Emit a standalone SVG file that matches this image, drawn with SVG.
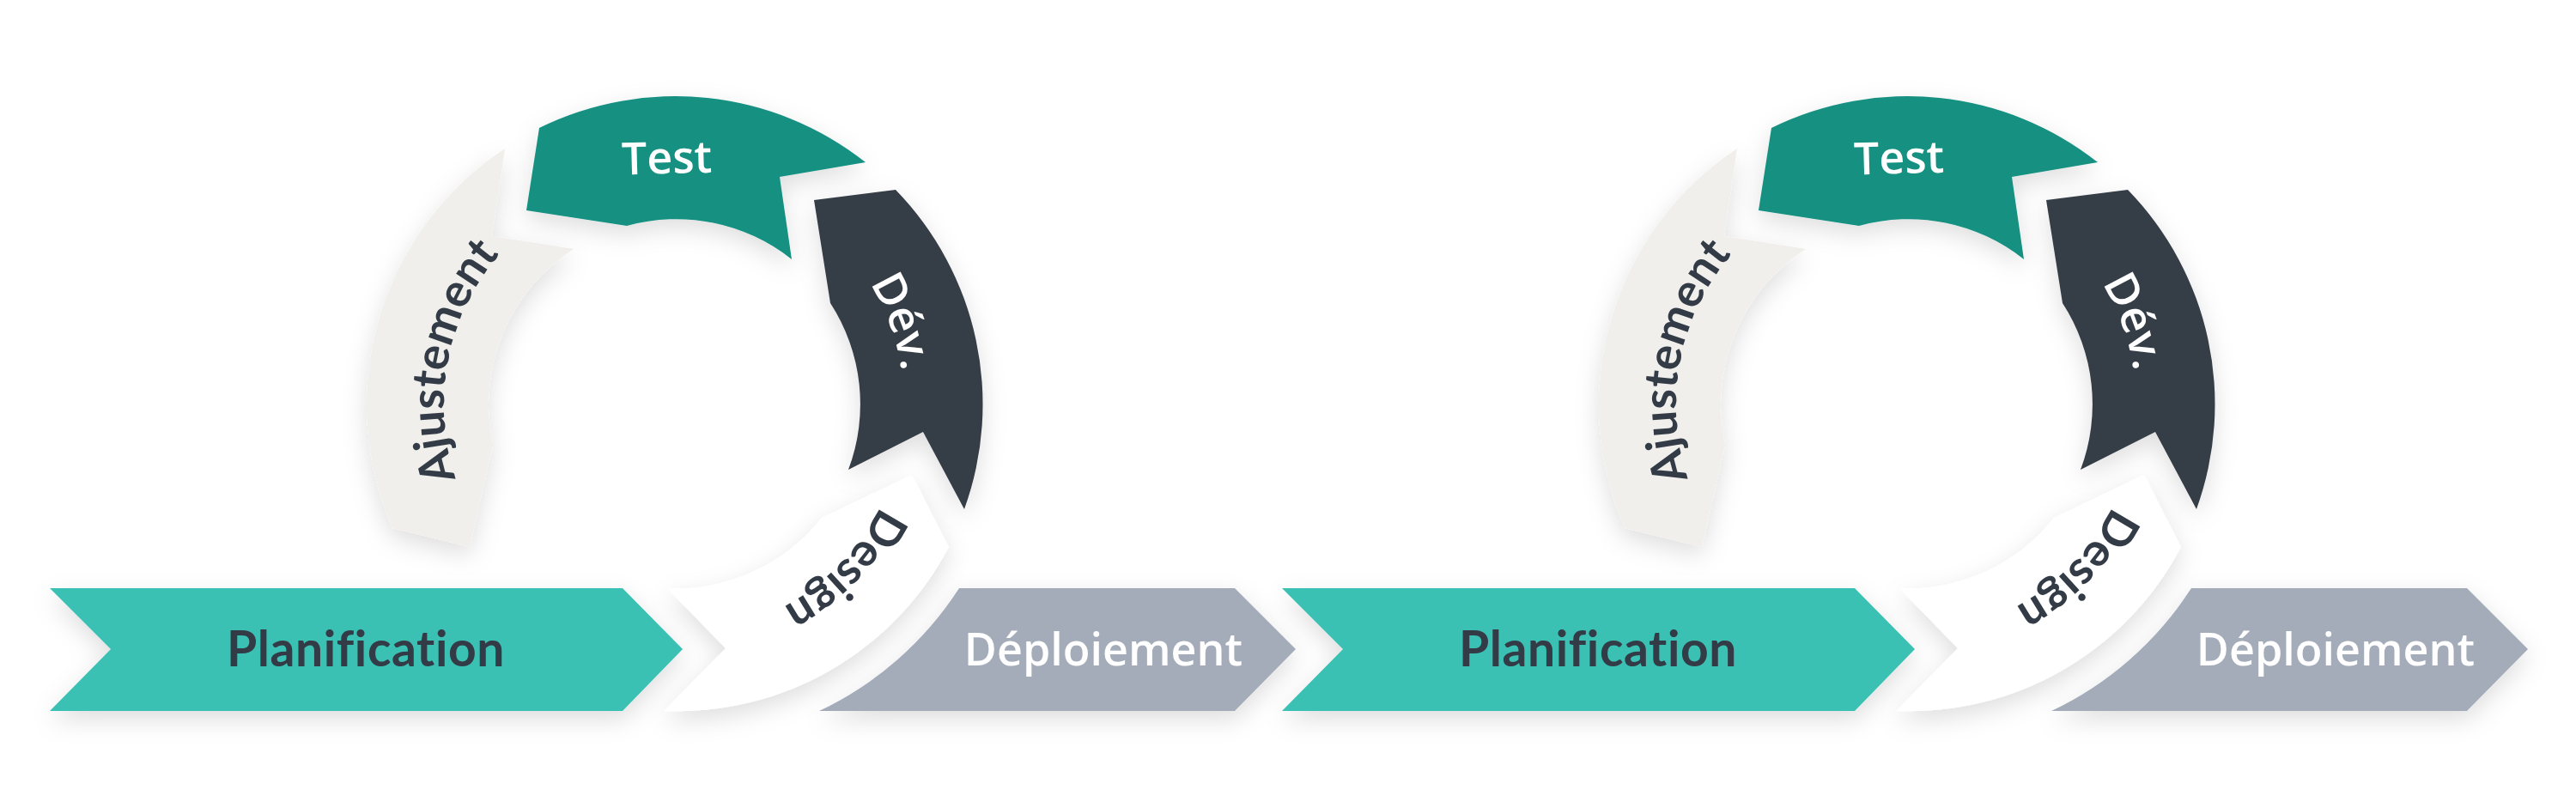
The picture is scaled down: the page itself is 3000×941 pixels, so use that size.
<svg xmlns="http://www.w3.org/2000/svg" xmlns:xlink="http://www.w3.org/1999/xlink" width="3000" height="941" viewBox="0 0 3000 941">
<style>
.sh{filter:url(#shadow)}
.t-adj{fill:#f1efec}
.t-test{fill:#169081}
.t-dev{fill:#363d46}
.t-des{fill:#ffffff}
.t-plan{fill:#3bc1b4}
.t-dep{fill:#a4acba}
.lbl-dark{font-family:"Lato","Liberation Sans",sans-serif;font-weight:700;font-size:54px;fill:#333c46}
.lbl-plan{font-size:57px;letter-spacing:0.6px}
.lbl-light{font-family:"Open Sans","Liberation Sans",sans-serif;font-weight:600;font-size:52px;fill:#ffffff}
</style>
<defs>
<filter id="shadow" x="-30%" y="-30%" width="160%" height="170%">
<feDropShadow dx="0" dy="10" stdDeviation="14" flood-color="#000000" flood-opacity="0.13"/>
</filter>
<path id="arcDev" d="M831.5,207.1 A268,268 0 0 1 990.3,643.3"/>
<path id="arcDes" d="M1042.6,397.1 A268,268 0 0 1 720.2,731"/>
<path id="arcAdj" d="M609.2,673.3 A268,268 0 0 1 697.7,217.6"/>
</defs>
<rect width="3000" height="941" fill="#ffffff"/>

<g id="cycle1">
<g id="ajustement1">
<path class="sh t-adj" d="M588,173 L573,275 L668,290 A216,216 0 0 0 574,518 L547,637 L457,615 A358,358 0 0 1 588,173 Z"/>
<text class="lbl-dark"><textPath xlink:href="#arcAdj" href="#arcAdj" startOffset="50%" text-anchor="middle">Ajustement</textPath></text>
</g>
<g id="test1">
<path class="sh t-test" d="M628,149 A358,358 0 0 1 1008,189 L908,206 L922,302 A216,216 0 0 0 730,263 L613,245 Z"/>
<text class="lbl-light" x="777" y="202" text-anchor="middle" transform="rotate(-1.5 777 202)">Test</text>
</g>
<g id="dev1">
<path class="sh t-dev" d="M948,233 L1043,221 A358,358 0 0 1 1123,593 L1075,503 L988,547 A216,216 0 0 0 967,353 Z"/>
<text class="lbl-light"><textPath xlink:href="#arcDev" href="#arcDev" startOffset="50%" text-anchor="middle">Dév.</textPath></text>
</g>
<g id="design1">
<path class="sh t-des" d="M1062,553 L1105,637 A358,358 0 0 1 773,828 L845,755 L777,685 A216,216 0 0 0 957,603 Z"/>
<text class="lbl-dark"><textPath xlink:href="#arcDes" href="#arcDes" startOffset="50%" text-anchor="middle">Design</textPath></text>
</g>
<g id="planification1">
<path class="sh t-plan" d="M58,685 L725,685 L795,756 L725,828 L58,828 L129,756 Z"/>
<text class="lbl-dark lbl-plan" x="426" y="776" text-anchor="middle">Planification</text>
</g>
<g id="deploiement1">
<path class="sh t-dep" d="M1117,685 L1438,685 L1509,756 L1438,828 L954,828 A395,395 0 0 0 1117,685 Z"/>
<text class="lbl-light" x="1285" y="775" text-anchor="middle">Déploiement</text>
</g>
</g>

<g id="cycle2" transform="translate(1435,0)">
<g id="ajustement2">
<path class="sh t-adj" d="M588,173 L573,275 L668,290 A216,216 0 0 0 574,518 L547,637 L457,615 A358,358 0 0 1 588,173 Z"/>
<text class="lbl-dark"><textPath xlink:href="#arcAdj" href="#arcAdj" startOffset="50%" text-anchor="middle">Ajustement</textPath></text>
</g>
<g id="test2">
<path class="sh t-test" d="M628,149 A358,358 0 0 1 1008,189 L908,206 L922,302 A216,216 0 0 0 730,263 L613,245 Z"/>
<text class="lbl-light" x="777" y="202" text-anchor="middle" transform="rotate(-1.5 777 202)">Test</text>
</g>
<g id="dev2">
<path class="sh t-dev" d="M948,233 L1043,221 A358,358 0 0 1 1123,593 L1075,503 L988,547 A216,216 0 0 0 967,353 Z"/>
<text class="lbl-light"><textPath xlink:href="#arcDev" href="#arcDev" startOffset="50%" text-anchor="middle">Dév.</textPath></text>
</g>
<g id="design2">
<path class="sh t-des" d="M1062,553 L1105,637 A358,358 0 0 1 773,828 L845,755 L777,685 A216,216 0 0 0 957,603 Z"/>
<text class="lbl-dark"><textPath xlink:href="#arcDes" href="#arcDes" startOffset="50%" text-anchor="middle">Design</textPath></text>
</g>
<g id="planification2">
<path class="sh t-plan" d="M58,685 L725,685 L795,756 L725,828 L58,828 L129,756 Z"/>
<text class="lbl-dark lbl-plan" x="426" y="776" text-anchor="middle">Planification</text>
</g>
<g id="deploiement2">
<path class="sh t-dep" d="M1117,685 L1438,685 L1509,756 L1438,828 L954,828 A395,395 0 0 0 1117,685 Z"/>
<text class="lbl-light" x="1285" y="775" text-anchor="middle">Déploiement</text>
</g>
</g>
</svg>
